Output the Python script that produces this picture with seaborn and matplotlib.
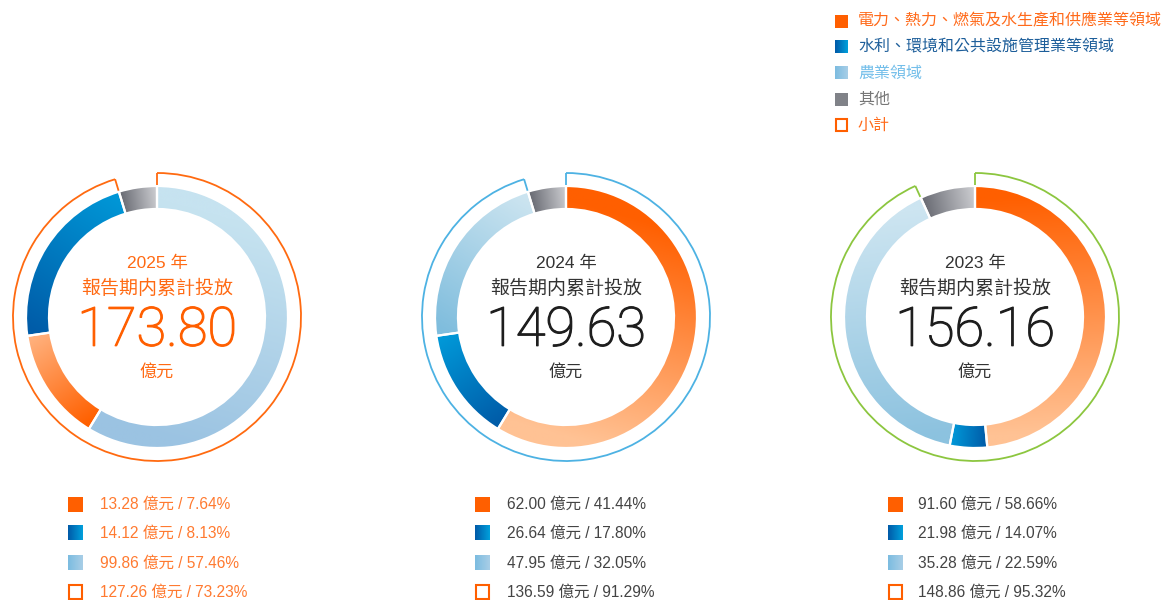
import numpy as np
import matplotlib
matplotlib.use("Agg")
import matplotlib.pyplot as plt
import matplotlib.patheffects as pe
from matplotlib.patches import Arc, Rectangle
import seaborn as sns

# ---- data ----
categories = ["電力、熱力、燃氣及水生產和供應業等領域", "水利、環境和公共設施管理業等領域",
              "農業領域", "其他", "小計"]
years = ["2025", "2024", "2023"]
totals = ["173.80", "149.63", "156.16"]

amounts = {"2025": [13.28, 14.12, 99.86, 127.26],
           "2024": [62.00, 26.64, 47.95, 136.59],
           "2023": [91.60, 21.98, 35.28, 148.86]}
percents = {"2025": [7.64, 8.13, 57.46, 73.23],
            "2024": [41.44, 17.80, 32.05, 91.29],
            "2023": [58.66, 14.07, 22.59, 95.32]}

# ring segments as drawn in the picture (clockwise from 12 o'clock, share in %)
ring_order = {"2025": ["agri", "power", "water", "other"],
              "2024": ["power", "water", "agri", "other"],
              "2023": ["power", "water", "agri", "other"]}
ring_share = {"2025": [58.7, 14.0, 22.6, 4.7],
              "2024": [58.7, 14.0, 22.6, 4.7],
              "2023": [48.5, 4.6, 40.1, 6.8]}

# ---- style ----
ORANGE = "#ff5f00"
outline_col = {"2025": "#ff6a10", "2024": "#4db2e3", "2023": "#8cc63f"}
center_col = {"2025": "#ff6a13", "2024": "#333333", "2023": "#333333"}
number_col = {"2025": "#ff5f00", "2024": "#1e1e1e", "2023": "#1e1e1e"}
legend_txt_col = {"2025": "#ff7a30", "2024": "#444444", "2023": "#444444"}

# gradient colours along the arc (start -> end, clockwise)
grad = {
    "2025": {"agri": ("#c6e3f0", "#9bc3e2"), "power": ("#ff6000", "#ffb07c"),
             "water": ("#005ca8", "#0096d6"), "other": ("#6b6d75", "#cacbcf")},
    "2024": {"power": ("#ff5f00", "#ffc294"), "water": ("#005ca8", "#0098d8"),
             "agri": ("#7fbddd", "#cbe4f0"), "other": ("#6b6d75", "#cacbcf")},
    "2023": {"power": ("#ff5f00", "#ffc294"), "water": ("#005ca8", "#0098d8"),
             "agri": ("#8cc2df", "#cde5f1"), "other": ("#6b6d75", "#cacbcf")},
}

sns.set_theme(style="white")
CJK = ["Noto Sans CJK TC", "DejaVu Sans"]
MIX = ["Liberation Sans", "Noto Sans CJK TC", "DejaVu Sans"]
plt.rcParams["font.family"] = CJK

W, H = 1163, 600
fig = plt.figure(figsize=(W / 100, H / 100), dpi=100)
fig.patch.set_facecolor("white")

centers = {"2025": (157, 317), "2024": (566, 317), "2023": (975, 317)}
R, WIDTH, R_OUT = 131, 23, 144
HALF = 160

gx = np.linspace(-R, R, 300)
GX, GY = np.meshgrid(gx, gx)

for yr, tot in zip(years, totals):
    cx, cy = centers[yr]
    ax = fig.add_axes([(cx - HALF) / W, (H - cy - HALF) / H, 2 * HALF / W, 2 * HALF / H])
    wedges, _ = ax.pie(ring_share[yr], startangle=90, counterclock=False, radius=R,
                       colors=["none"] * 4,
                       wedgeprops=dict(width=WIDTH, edgecolor="white", linewidth=1.6))
    rm = R - WIDTH / 2
    for w, key in zip(wedges, ring_order[yr]):
        w.set_zorder(3)
        a0, a1 = np.deg2rad(w.theta2), np.deg2rad(w.theta1)  # clockwise start / end
        p0 = np.array([rm * np.cos(a0), rm * np.sin(a0)])
        p1 = np.array([rm * np.cos(a1), rm * np.sin(a1)])
        d = p1 - p0
        t = ((GX - p0[0]) * d[0] + (GY - p0[1]) * d[1]) / (d @ d)
        cmap = sns.blend_palette(list(grad[yr][key]), as_cmap=True)
        im = ax.imshow(np.clip(t, 0, 1), cmap=cmap, vmin=0, vmax=1, origin="lower",
                       extent=(-R, R, -R, R), zorder=2, interpolation="bilinear")
        im.set_clip_path(w)

    # subtotal outline
    end = 360 * (1 - ring_share[yr][-1] / 100)
    oc = outline_col[yr]
    ax.add_patch(Arc((0, 0), 2 * R_OUT, 2 * R_OUT, theta1=90 - end, theta2=90,
                     color=oc, lw=1.3, zorder=4))
    for ang in (0, end):
        a = np.deg2rad(ang)
        ax.plot([R_OUT * np.sin(a), (R + 1) * np.sin(a)],
                [R_OUT * np.cos(a), (R + 1) * np.cos(a)], color=oc, lw=1.3, zorder=4,
                solid_capstyle="butt")

    ax.text(0, 54, f"{yr} 年", ha="center", va="center", fontsize=12.5,
            color=center_col[yr], family=MIX)
    ax.text(0, 29, "報告期内累計投放", ha="center", va="center", fontsize=13.7,
            color=center_col[yr])
    ax.text(0, -14, tot, ha="center", va="center", fontsize=39, fontweight="light",
            color=number_col[yr], family=["Roboto", "DejaVu Sans"],
            path_effects=[pe.withStroke(linewidth=0.9, foreground=number_col[yr])])
    ax.text(0, -55, "億元", ha="center", va="center", fontsize=12.3, color=center_col[yr])

    ax.set_xlim(-HALF, HALF)
    ax.set_ylim(-HALF, HALF)
    ax.set_aspect("auto")
    ax.axis("off")

# ---- overlay for legends ----
lay = fig.add_axes([0, 0, 1, 1], zorder=10)
lay.set_xlim(0, W)
lay.set_ylim(H, 0)
lay.axis("off")
lay.patch.set_alpha(0)


def square(x, y, s, kind):
    if kind == "solid":
        lay.add_patch(Rectangle((x, y - s / 2), s, s, color=ORANGE, lw=0))
    elif kind == "gray":
        lay.add_patch(Rectangle((x, y - s / 2), s, s, color="#808288", lw=0))
    elif kind == "hollow":
        lay.add_patch(Rectangle((x + 0.8, y - s / 2 + 0.8), s - 1.6, s - 1.6,
                                facecolor="white", edgecolor=ORANGE, lw=1.5))
    else:
        cols = ("#005aa8", "#00a0dc") if kind == "blue" else ("#7cbce0", "#a8cee7")
        cmap = sns.blend_palette(list(cols), as_cmap=True)
        lay.imshow(np.linspace(0, 1, 50)[None, :], cmap=cmap, aspect="auto",
                   extent=(x, x + s, y + s / 2, y - s / 2), zorder=3)


# top-right legend
top_kinds = ["solid", "blue", "lightblue", "gray", "hollow"]
top_cols = ["#ff6a1a", "#1d5e9a", "#74bfea", "#777777", "#ff6a1a"]
top_y = [21, 47, 73, 99, 125]
for cat, kind, col, yy in zip(categories, top_kinds, top_cols, top_y):
    square(835, yy, 13, kind)
    lay.text(858, yy, cat, va="center", ha="left", fontsize=11.5, color=col)

# bottom legends
bottom_kinds = ["solid", "blue", "lightblue", "hollow"]
bottom_y = [504, 533, 563, 592]
leg_x = {"2025": (68, 100), "2024": (475, 507), "2023": (888, 918)}
for yr in years:
    sx, tx = leg_x[yr]
    for amt, pct, kind, yy in zip(amounts[yr], percents[yr], bottom_kinds, bottom_y):
        square(sx, yy, 15, kind)
        lay.text(tx, yy, f"{amt:.2f} 億元 / {pct:.2f}%", va="center", ha="left",
                 fontsize=11.2, color=legend_txt_col[yr], family=MIX)

fig.savefig("out.png", dpi=100, facecolor="white")
